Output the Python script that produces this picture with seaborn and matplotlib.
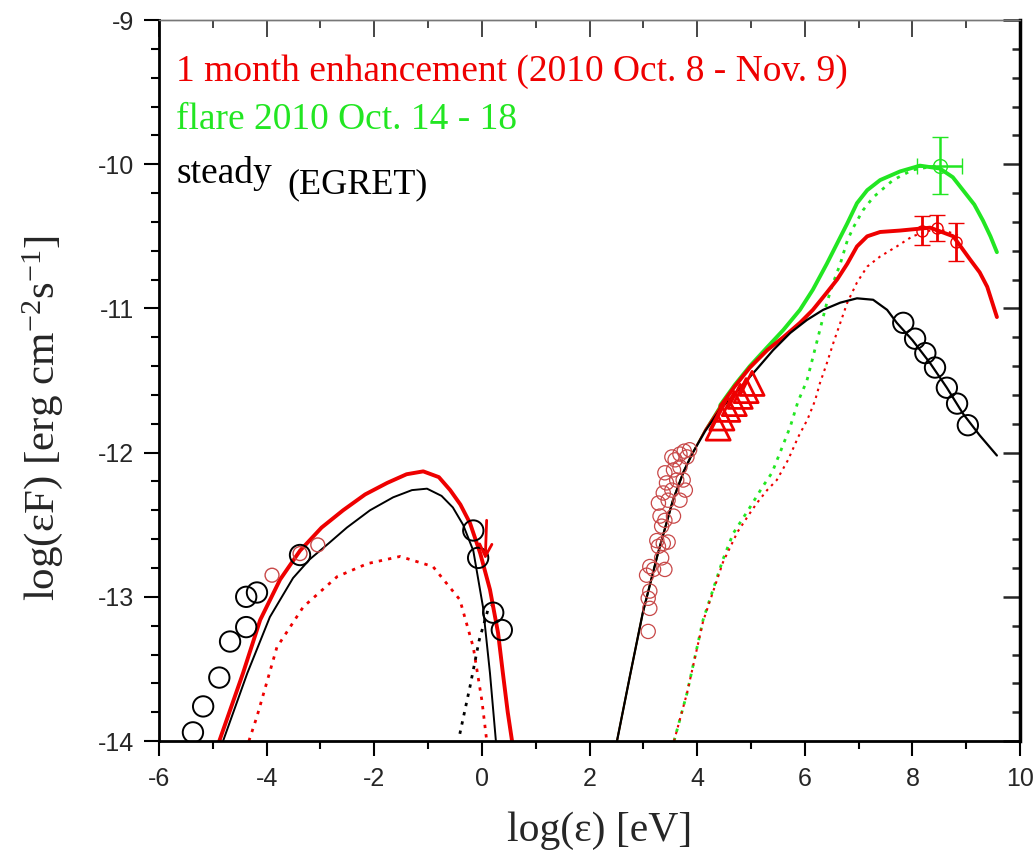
"""
SED of the blazar: 1 month enhancement, flare and steady state models.
"""

import matplotlib
matplotlib.use("Agg")
import matplotlib.pyplot as plt
import numpy as np
import seaborn as sns
from matplotlib import font_manager
from matplotlib.ticker import MultipleLocator, NullFormatter

# --- data (log eps [eV], log eps F [erg cm-2 s-1]) ---

# synchrotron hump, left
red_sync_x = [-4.88, -4.44, -4.12, -3.75, -3.38, -2.98, -2.58, -2.17, -1.76, -1.40, -1.09,
              -0.80, -0.59, -0.40, -0.22, -0.03, 0.15, 0.30, 0.39, 0.48, 0.56]
red_sync_y = [-14.0, -13.53, -13.16, -12.88, -12.68, -12.52, -12.40, -12.29, -12.21, -12.15, -12.13,
              -12.17, -12.26, -12.36, -12.49, -12.70, -12.95, -13.25, -13.53, -13.80, -14.0]

black_sync_x = [-4.81, -4.36, -3.94, -3.51, -3.20, -2.85, -2.51, -2.08, -1.65, -1.30, -1.02,
                -0.75, -0.54, -0.35, -0.16, 0.02, 0.15, 0.26]
black_sync_y = [-14.0, -13.53, -13.14, -12.87, -12.74, -12.63, -12.52, -12.40, -12.31, -12.26, -12.25,
                -12.30, -12.38, -12.50, -12.68, -13.07, -13.53, -14.0]

red_sync_dot_x = [-4.33, -4.18, -3.81, -3.32, -2.69, -2.13, -1.52, -0.91, -0.41, -0.16, 0.0, 0.09]
red_sync_dot_y = [-14.0, -13.83, -13.35, -13.07, -12.86, -12.77, -12.72, -12.79, -13.02, -13.35, -13.72, -14.0]

black_disk_dot_x = [-0.41, -0.22, -0.05, 0.12, 0.22]
black_disk_dot_y = [-13.95, -13.62, -13.30, -13.08, -13.05]

# inverse Compton hump, right
black_ic_x = [2.51, 2.75, 2.99, 3.27, 3.55, 3.75, 3.92, 4.15, 4.43, 4.80, 5.11, 5.41, 5.73, 6.04,
              6.34, 6.66, 6.97, 7.27, 7.53, 7.71, 8.00, 8.33, 8.64, 8.94, 9.25, 9.57]
black_ic_y = [-14.0, -13.55, -13.11, -12.70, -12.33, -12.13, -12.00, -11.85, -11.70, -11.55, -11.42, -11.29,
              -11.17, -11.08, -11.01, -10.96, -10.93, -10.94, -11.01, -11.10, -11.22, -11.38, -11.55,
              -11.73, -11.88, -12.02]

green_ic_x = [2.51, 2.75, 2.99, 3.27, 3.55, 3.75, 3.92, 4.15, 4.43, 4.70, 4.98, 5.30, 5.60, 5.91,
              6.15, 6.41, 6.60, 6.79, 6.97, 7.16, 7.40, 7.77, 8.14, 8.51, 8.75, 8.94, 9.15, 9.31,
              9.45, 9.57]
green_ic_y = [-14.0, -13.55, -13.11, -12.70, -12.33, -12.13, -12.00, -11.84, -11.67, -11.53, -11.40, -11.27,
              -11.15, -11.01, -10.87, -10.69, -10.55, -10.41, -10.27, -10.18, -10.11, -10.05, -10.01,
              -10.03, -10.09, -10.18, -10.28, -10.39, -10.50, -10.61]

red_ic_x = [2.51, 2.75, 2.99, 3.27, 3.55, 3.75, 3.92, 4.15, 4.43, 4.70, 4.98, 5.30, 5.60, 5.91,
            6.15, 6.41, 6.60, 6.79, 6.97, 7.16, 7.40, 7.77, 8.33, 8.76, 9.07, 9.25, 9.39, 9.57]
red_ic_y = [-14.0, -13.55, -13.11, -12.70, -12.33, -12.13, -12.00, -11.84, -11.68, -11.54, -11.41, -11.29,
            -11.20, -11.10, -11.01, -10.89, -10.80, -10.69, -10.57, -10.50, -10.47, -10.46, -10.44,
            -10.50, -10.66, -10.75, -10.85, -11.06]

green_ic_dot_x = [3.57, 3.81, 4.11, 4.48, 4.67, 4.98, 5.21, 5.39, 5.54, 5.73, 5.87, 6.04, 6.15, 6.28,
                  6.41, 6.53, 6.66, 6.79, 6.90, 7.08, 7.27, 7.64, 8.00, 8.30, 8.50]
green_ic_dot_y = [-14.0, -13.67, -13.16, -12.74, -12.56, -12.38, -12.24, -12.14, -12.00, -11.82, -11.65,
                  -11.50, -11.34, -11.15, -10.96, -10.82, -10.69, -10.53, -10.44, -10.32, -10.23, -10.11,
                  -10.04, -10.02, -10.01]

red_ic_dot_x = [3.57, 3.81, 4.11, 4.48, 4.75, 4.98, 5.11, 5.30, 5.48, 5.69, 5.88, 6.05, 6.19, 6.28,
                6.41, 6.53, 6.66, 6.79, 6.97, 7.16, 7.40, 7.71, 8.00, 8.33, 8.60, 8.90]
red_ic_dot_y = [-14.0, -13.67, -13.17, -12.76, -12.55, -12.42, -12.35, -12.26, -12.19, -12.05, -11.89,
                -11.77, -11.64, -11.52, -11.38, -11.24, -11.10, -10.96, -10.82, -10.71, -10.64, -10.57,
                -10.50, -10.46, -10.46, -10.50]

# steady (EGRET era) data
steady_x = [-5.37, -5.18, -4.88, -4.68, -4.38, -4.38, -4.18, -3.38, -0.16, -0.07, 0.21, 0.37,
            7.83, 8.05, 8.24, 8.42, 8.64, 8.83, 9.03]
steady_y = [-13.94, -13.76, -13.56, -13.31, -13.21, -13.00, -12.97, -12.71, -12.54, -12.73, -13.11, -13.23,
            -11.10, -11.21, -11.31, -11.41, -11.55, -11.66, -11.81]

# 1 month data: radio / optical / X-ray
month_radio_x = [-3.90, -3.38, -3.05]
month_radio_y = [-12.85, -12.70, -12.64]

month_opt_x = [3.09, 3.12, 3.09, 3.12, 3.06, 3.19, 3.12, 3.40, 3.34, 3.28, 3.37, 3.25, 3.46, 3.34, 3.40,
               3.31, 3.56, 3.28, 3.46, 3.68, 3.37, 3.53, 3.78, 3.43, 3.62, 3.74, 3.40, 3.56, 3.68, 3.53,
               3.68, 3.81, 3.59, 3.76, 3.86]
month_opt_y = [-13.24, -13.08, -13.01, -12.96, -12.85, -12.81, -12.79, -12.81, -12.73, -12.65, -12.63,
               -12.61, -12.62, -12.51, -12.47, -12.44, -12.44, -12.35, -12.33, -12.33, -12.28, -12.26,
               -12.26, -12.21, -12.19, -12.19, -12.14, -12.12, -12.10, -12.03, -12.01, -12.03, -12.05,
               -11.99, -11.98]

month_xray_x = [4.39, 4.46, 4.57, 4.69, 4.80, 4.91, 5.02]
month_xray_y = [-11.83, -11.76, -11.70, -11.66, -11.61, -11.57, -11.52]

# gamma-ray points with errors
month_gam_x = [8.18, 8.46, 8.81]
month_gam_y = [-10.46, -10.44, -10.54]
month_gam_yerr = [0.10, 0.09, 0.13]

flare_gam_x = [8.51]
flare_gam_y = [-10.01]
flare_gam_xerr = [0.42]
flare_gam_yerr = [0.20]

# upper limit (arrow) in the optical/UV
ul_x = 0.09
ul_y_top, ul_y_tip = -12.45, -12.76

RED = "#ee0000"
GREEN = "#22e622"
CIRC_RED = "#c84848"

sns.set_theme(style="ticks")
names = {f.name for f in font_manager.fontManager.ttflist}
tick_font = "Liberation Sans Narrow" if "Liberation Sans Narrow" in names else "Liberation Sans"
plt.rcParams["font.family"] = ["Liberation Serif", "DejaVu Serif"]
plt.rcParams["mathtext.default"] = "regular"
plt.rcParams["axes.unicode_minus"] = False

fig = plt.figure(figsize=(10.36, 8.55), dpi=100)
ax = fig.add_axes([0.1535, 0.1333, 0.8311, 0.8433])

dots = (0, (1.2, 2.2))

# --- model curves ---
sns.lineplot(x=red_sync_dot_x, y=red_sync_dot_y, sort=False, estimator=None, color=RED, lw=2, linestyle=dots, ax=ax)
sns.lineplot(x=black_disk_dot_x, y=black_disk_dot_y, sort=False, estimator=None, color="black", lw=2, linestyle=dots, ax=ax)
sns.lineplot(x=black_sync_x, y=black_sync_y, sort=False, estimator=None, color="black", lw=1.4, ax=ax)
sns.lineplot(x=red_sync_x, y=red_sync_y, sort=False, estimator=None, color=RED, lw=2.8, ax=ax)

sns.lineplot(x=green_ic_dot_x, y=green_ic_dot_y, sort=False, estimator=None, color=GREEN, lw=2, linestyle=dots, ax=ax)
sns.lineplot(x=red_ic_dot_x, y=red_ic_dot_y, sort=False, estimator=None, color=RED, lw=1.5, linestyle=dots, ax=ax)

for xs, ys, col in [(green_ic_x, green_ic_y, GREEN), (red_ic_x, red_ic_y, RED)]:
    xs = np.array(xs)
    ys = np.array(ys)
    ax.plot(xs[xs <= 4.7], ys[xs <= 4.7], color=col, lw=1.3, zorder=2)
    sns.lineplot(x=xs[xs >= 4.43], y=ys[xs >= 4.43], sort=False, estimator=None, color=col, lw=2.8, ax=ax)
sns.lineplot(x=black_ic_x, y=black_ic_y, sort=False, estimator=None, color="black", lw=1.6, ax=ax)

# --- data points ---
sns.scatterplot(x=steady_x, y=steady_y, marker="o", s=215, facecolors="none", edgecolor="black", linewidth=1.4, ax=ax, zorder=4)
sns.scatterplot(x=month_radio_x, y=month_radio_y, marker="o", s=100, facecolors="none", edgecolor=CIRC_RED, linewidth=1, ax=ax, zorder=4)
sns.scatterplot(x=month_opt_x, y=month_opt_y, marker="o", s=105, facecolors="none", edgecolor=CIRC_RED, linewidth=0.9, ax=ax, zorder=4)
sns.scatterplot(x=month_xray_x, y=month_xray_y, marker="^", s=300, facecolors="none", edgecolor=RED, linewidth=2, ax=ax, zorder=5)

ax.errorbar(month_gam_x, month_gam_y, yerr=month_gam_yerr, fmt="o", ms=8, mfc="none", mec=RED, mew=1,
            ecolor=RED, elinewidth=2, capsize=6, capthick=2, zorder=5)
ax.errorbar(flare_gam_x, flare_gam_y, xerr=flare_gam_xerr, yerr=flare_gam_yerr, fmt="o", ms=10, mfc="none",
            mec=GREEN, mew=1, ecolor=GREEN, elinewidth=1.8, capsize=6, capthick=1.8, zorder=5)

ax.annotate("", xy=(ul_x - 0.03, ul_y_tip), xytext=(ul_x, ul_y_top),
            arrowprops=dict(arrowstyle="->", color=RED, lw=2, mutation_scale=22), zorder=6)

# --- texts ---
ax.text(0.02, 0.929, "1 month enhancement (2010 Oct. 8 - Nov. 9)", transform=ax.transAxes,
        color=RED, fontsize=27, va="center", ha="left")
ax.text(0.02, 0.861, "flare 2010 Oct. 14 - 18", transform=ax.transAxes,
        color=GREEN, fontsize=27, va="center", ha="left")
ax.text(0.02, 0.787, "steady", transform=ax.transAxes, color="black", fontsize=27, va="center", ha="left")
ax.text(0.149, 0.772, "(EGRET)", transform=ax.transAxes, color="black", fontsize=26, va="center", ha="left")

# --- axes ---
ax.set_xlim(-6, 10)
ax.set_ylim(-14, -9)
ax.set_xlabel("log(ε) [eV]", fontsize=30)
ax.set_ylabel("log(εF) [erg cm$^{-2}$s$^{-1}$]", fontsize=31)
ax.xaxis.set_label_coords(0.512, -0.098)
ax.yaxis.set_label_coords(-0.109, 0.448)

ax.xaxis.set_major_locator(MultipleLocator(2))
ax.xaxis.set_minor_locator(MultipleLocator(1))
ax.yaxis.set_major_locator(MultipleLocator(1))
ax.yaxis.set_minor_locator(MultipleLocator(0.2))
ax.tick_params(which="both", direction="out", top=False, right=False, color="black", width=1.5)
ax.tick_params(which="major", length=11)
ax.tick_params(axis="x", which="major", pad=8)
ax.tick_params(axis="y", which="major", pad=7)
ax.tick_params(which="minor", length=5.5)
for lab in ax.get_xticklabels() + ax.get_yticklabels():
    lab.set_fontfamily(tick_font)
    lab.set_fontsize(18)

secx = ax.secondary_xaxis("top")
secx.xaxis.set_major_locator(MultipleLocator(2))
secx.xaxis.set_minor_locator(MultipleLocator(1))
secx.xaxis.set_major_formatter(NullFormatter())
secx.tick_params(which="both", direction="in", width=1.2)
secx.tick_params(which="major", length=12)
secx.tick_params(which="minor", length=6)

secy = ax.secondary_yaxis("right")
secy.yaxis.set_major_locator(MultipleLocator(1))
secy.yaxis.set_minor_locator(MultipleLocator(0.2))
secy.yaxis.set_major_formatter(NullFormatter())
secy.tick_params(which="both", direction="in", width=1.8)
secy.tick_params(which="major", length=12)
secy.tick_params(which="minor", length=6)

for side in ["left", "bottom", "right"]:
    ax.spines[side].set_linewidth(2)
    ax.spines[side].set_color("black")
ax.spines["top"].set_linewidth(1)
ax.spines["top"].set_color("#777777")
secx.spines["top"].set_linewidth(1)
secx.spines["top"].set_color("#777777")
secy.spines["right"].set_linewidth(2.5)
secy.spines["right"].set_color("black")

fig.savefig("out.png", dpi=100)
